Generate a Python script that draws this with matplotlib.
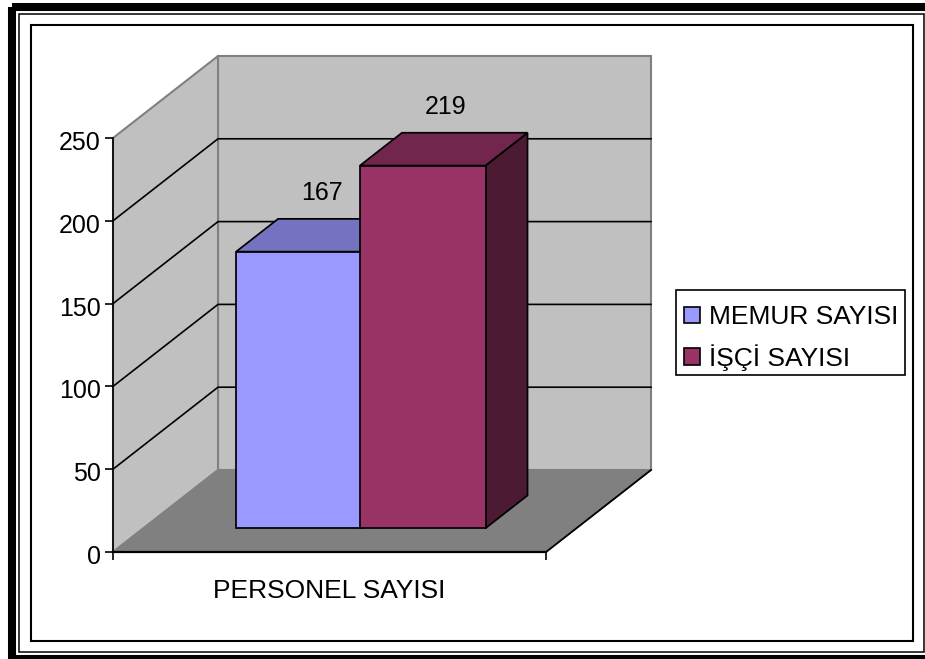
import matplotlib
matplotlib.use("Agg")
import matplotlib.pyplot as plt
from matplotlib.patches import Patch, Polygon, Rectangle
from matplotlib.transforms import ScaledTranslation

plt.rcParams['font.family'] = ['Liberation Sans', 'DejaVu Sans']

# data
category = "PERSONEL SAYISI"
series_names = ["MEMUR SAYISI", "İŞÇİ SAYISI"]
series_values = [167, 219]
y_ticks = [0, 50, 100, 150, 200, 250]

front_colors = ["#9999FF", "#993366"]
top_colors = ["#7373BF", "#73264D"]
side_colors = ["#4D4D80", "#4D1A33"]

W, H = 925, 659
fig = plt.figure(figsize=(W / 100, H / 100), dpi=100)

# page frames, in pixels
bg = fig.add_axes([0, 0, 1, 1])
bg.set_xlim(0, W)
bg.set_ylim(H, 0)
bg.axis("off")
bg.add_patch(Rectangle((12, 7), 930, 652, fill=False, ec="black", lw=5.8))
bg.add_patch(Rectangle((19, 14), 905, 637.5, fill=False, ec="black", lw=1.1))
bg.add_patch(Rectangle((30.5, 24.5), 882, 616, fill=False, ec="black", lw=1.5))
# legend box
bg.add_patch(Rectangle((676, 290), 229, 85, fill=False, ec="black", lw=1.2))

# front plane of the plot box
left, right, top, bottom = 113, 546, 138, 552
ax = fig.add_axes([left / W, 1 - bottom / H, (right - left) / W, (bottom - top) / H])
ax.set_xlim(0, 1)
ax.set_ylim(0, 250)
ax.patch.set_visible(False)

# depth of the box in axes units
depth_x = 105 / (right - left)
depth_y = 82 / (bottom - top) * 250


def project(x, y, z):
    return (x + z * depth_x, y + z * depth_y)


def face(points, color, edge, lw=1.25, zorder=2):
    ax.add_patch(Polygon([project(*p) for p in points], closed=True, fc=color, ec=edge,
                         lw=lw, zorder=zorder, clip_on=False, joinstyle="miter"))


wall_gray = "#C0C0C0"
floor_gray = "#808080"

# back wall, left wall, floor
face([(0, 0, 1), (1, 0, 1), (1, 250, 1), (0, 250, 1)], wall_gray, floor_gray, 1.5, 1)
face([(0, 0, 0), (0, 0, 1), (0, 250, 1), (0, 250, 0)], wall_gray, floor_gray, 1.5, 1)
face([(0, 0, 0), (1, 0, 0), (1, 0, 1), (0, 0, 1)], floor_gray, floor_gray, 1.1, 1.5)

# gridlines
for v in y_ticks[1:-1]:
    xs, ys = zip(project(0, v, 0), project(0, v, 1), project(1, v, 1))
    ax.plot(xs, ys, color="black", lw=1.2, zorder=1.2, clip_on=False)
xs, ys = zip(project(1, 0, 0), project(1, 0, 1))
ax.plot(xs, ys, color="black", lw=1.3, zorder=1.6, clip_on=False)

# bars
bar_starts = [0.214, 0.500]
bar_width = 0.290
z0, z1 = 0.29, 0.69
for i, val in enumerate(series_values):
    x0 = bar_starts[i]
    x1 = x0 + bar_width
    face([(x1, 0, z0), (x1, 0, z1), (x1, val, z1), (x1, val, z0)], side_colors[i], "black", zorder=3 + i)
    face([(x0, val, z0), (x1, val, z0), (x1, val, z1), (x0, val, z1)], top_colors[i], "black", zorder=3 + i)
    face([(x0, 0, z0), (x1, 0, z0), (x1, val, z0), (x0, val, z0)], front_colors[i], "black", zorder=3 + i)
    ax.annotate(str(val), xy=project((x0 + x1) / 2, val, z0), xytext=(23 * 0.72, 59 * 0.72),
                textcoords="offset points", ha="center", va="center", fontsize=18,
                color="black", zorder=6)

# axes
for s in ["top", "right"]:
    ax.spines[s].set_visible(False)
ax.spines["left"].set_linewidth(1.2)
ax.spines["bottom"].set_linewidth(1.6)
ax.spines["left"].set_zorder(2)
ax.spines["bottom"].set_zorder(2)
ax.set_yticks(y_ticks)
ax.set_xticks([0, 1])
ax.set_xticklabels([])
ax.tick_params(axis="both", length=5.8, width=1.2, color="black")
ax.tick_params(axis="y", labelsize=18, pad=3)
# tick labels sit a little under their ticks in the original
shift = ScaledTranslation(0, -2.5 / 100, fig.dpi_scale_trans)
for lbl in ax.get_yticklabels():
    lbl.set_transform(lbl.get_transform() + shift)
ax.set_xlabel(category, fontsize=19, labelpad=10.5, x=0.5)

# legend
handles = [Patch(fc=c, ec="black", lw=1.2, label=n) for c, n in zip(front_colors, series_names)]
leg = fig.legend(handles=handles, loc="center left", fontsize=19, frameon=False,
                 handlelength=0.6, handleheight=0.6,
                 handletextpad=0.34, borderpad=0.3, borderaxespad=0, labelspacing=0.56,
                 bbox_to_anchor=(676 / W, 1 - 338 / H))

fig.savefig("out.png", dpi=100)
